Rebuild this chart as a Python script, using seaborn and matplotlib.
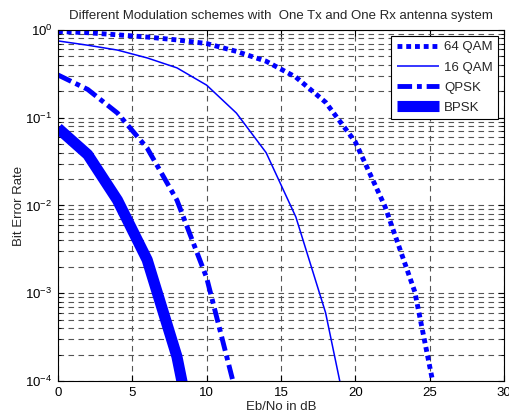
import numpy as np
import pandas as pd
import matplotlib
matplotlib.use("Agg")
import matplotlib.pyplot as plt
import seaborn as sns

# values, every 2 dB
ebno = [0, 2, 4, 6, 8, 10, 12, 14, 16, 18, 20, 22, 24, 26]
ber_64qam = [0.96, 0.93, 0.88, 0.83, 0.77, 0.70, 0.57, 0.44, 0.29, 0.15, 0.053, 0.0097, 0.00104, 2.1e-5]
ber_16qam = [0.75, 0.67, 0.59, 0.48, 0.37, 0.235, 0.113, 0.040, 0.0074, 6.0e-4, 1.4e-5]
ber_qpsk = [0.307, 0.21, 0.113, 0.045, 0.0115, 0.0015, 7.0e-5]
ber_bpsk = [0.076, 0.038, 0.0115, 0.0024, 1.9e-4, 4.0e-6]

sns.set_style("ticks")
plt.rcParams['font.family'] = ['Liberation Sans', 'DejaVu Sans']
plt.rcParams['mathtext.default'] = 'regular'

fig = plt.figure(figsize=(5.1, 4.16), dpi=100)
ax = fig.add_axes([0.1137, 0.0841, 0.8745, 0.8439])

blue = '#0000ff'
fs = 9.5
sns.lineplot(x=ebno[:len(ber_64qam)], y=ber_64qam, ax=ax, color=blue, lw=3.5,
             label='64 QAM')
ax.lines[-1].set_dashes((1, 0.8))
sns.lineplot(x=ebno[:len(ber_16qam)], y=ber_16qam, ax=ax, color=blue, lw=1.1,
             label='16 QAM')
sns.lineplot(x=ebno[:len(ber_qpsk)], y=ber_qpsk, ax=ax, color=blue, lw=3.5,
             label='QPSK')
ax.lines[-1].set_dashes((3, 1, 1, 1))
sns.lineplot(x=ebno[:len(ber_bpsk)], y=ber_bpsk, ax=ax, color=blue, lw=8,
             label='BPSK', solid_capstyle='butt')

ax.set_yscale('log')
ax.set_xlim(0, 30)
ax.set_ylim(1e-4, 1)
ax.set_xticks([0, 5, 10, 15, 20, 25, 30])

ax.grid(True, which='major', axis='both', color='#555555', linestyle=(0, (5, 4)), lw=0.8)
ax.grid(True, which='minor', axis='y', color='#555555', linestyle=(0, (5, 4)), lw=0.8)
ax.set_axisbelow(True)

ax.tick_params(which='both', direction='in', top=True, right=True, labelsize=fs,
               colors='black')
ax.tick_params(which='major', length=4, pad=4)
ax.tick_params(which='minor', length=2)
for s in ax.spines.values():
    s.set_color('black')
    s.set_linewidth(0.8)

ax.set_title('Different Modulation schemes with  One Tx and One Rx antenna system',
             fontsize=fs, pad=8)
ax.set_xlabel('Eb/No in dB', fontsize=fs, labelpad=2)
ax.set_ylabel('Bit Error Rate', fontsize=fs, labelpad=0)

leg = ax.legend(loc='upper right', fontsize=fs, frameon=True, fancybox=False,
                framealpha=1, edgecolor='black', handlelength=3.2,
                borderaxespad=0.45, labelspacing=0.6, borderpad=0.4,
                handletextpad=0.4)
leg.get_frame().set_linewidth(0.8)
for h in leg.get_lines():
    h.set_solid_capstyle('butt')

fig.savefig('out.png', dpi=100)
